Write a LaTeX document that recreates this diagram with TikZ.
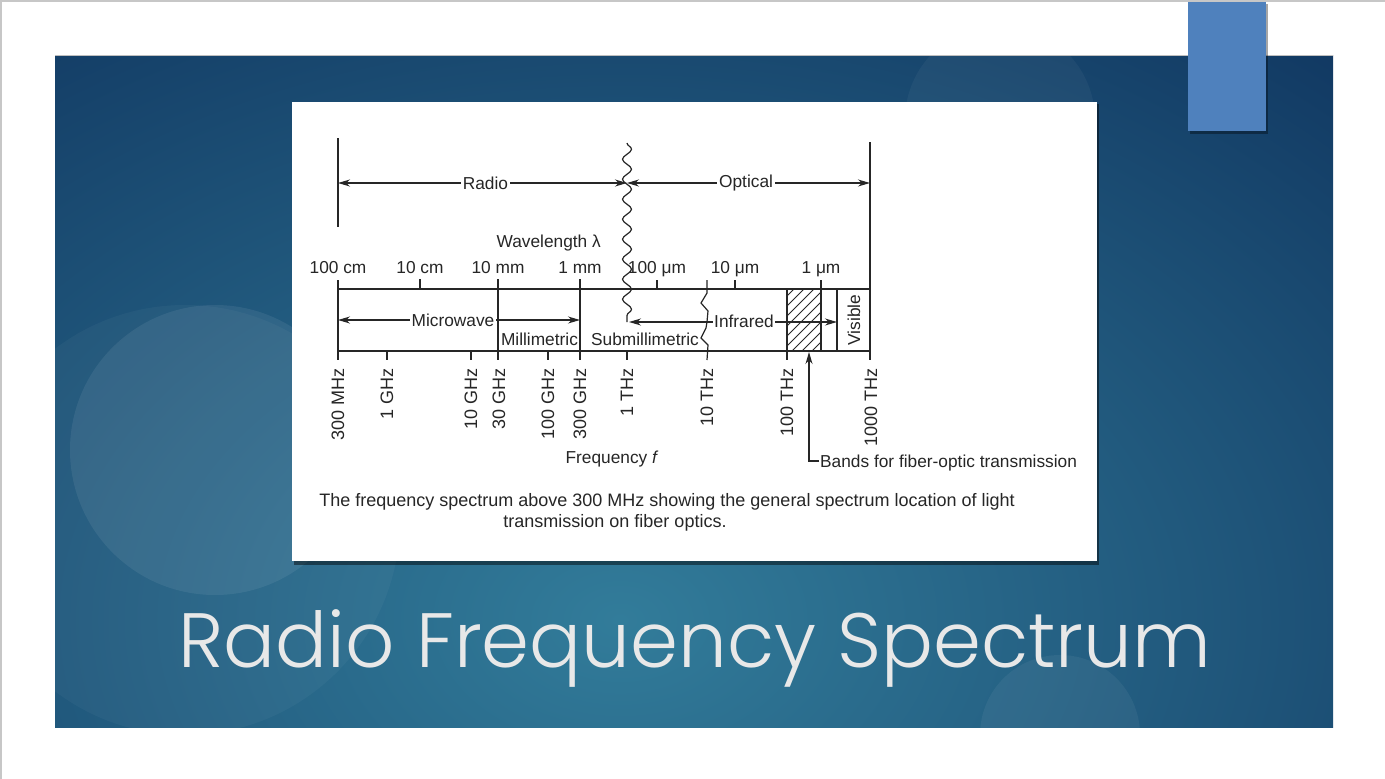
\documentclass[tikz,border=0pt]{standalone}
\usepackage{fontspec}
\setmainfont{Liberation Sans}
\newfontfamily\titlefont{Poppins}[UprightFont=* Light]
\usetikzlibrary{arrows.meta,decorations.pathmorphing}
\definecolor{bgdark}{RGB}{11,44,88}
\definecolor{bgteal}{RGB}{50,124,154}
\definecolor{accent}{RGB}{79,129,189}
\definecolor{ink}{RGB}{38,38,38}
\definecolor{titlegray}{RGB}{232,232,232}
\tikzset{
  ln/.style={draw=ink, line width=1.2pt},
  arr/.style={ln, -{Stealth[length=12pt,width=7pt]}},
  darr/.style={ln, {Stealth[length=12pt,width=7pt]}-{Stealth[length=12pt,width=7pt]}},
  lbl/.style={font=\fontsize{17.3}{19}\selectfont, text=ink, inner sep=1pt},
  flbl/.style={lbl, font=\fontsize{18}{19}\selectfont, rotate=90, anchor=east},
  wlbl/.style={lbl, anchor=base},
  caplbl/.style={lbl, anchor=base, font=\fontsize{18}{20}\selectfont},
  gap/.style={lbl, fill=white, inner sep=2pt},
}
\begin{document}
\begin{tikzpicture}[x=1pt,y=-1pt]
\useasboundingbox (0,0) rectangle (1385,779);
\fill[white] (0,0) rectangle (1385,779);
\draw[black!22, line width=1.5pt] (0,1) -- (1385,1);
\draw[black!22, line width=1.5pt] (1,0) -- (1,779);

% slide background
\fill[bgdark] (55,55) rectangle (1333,727);
\begin{scope}
  \clip (55,55) rectangle (1333,727);
  \shade[inner color=bgteal, outer color=bgdark] (620,620) ellipse (1300 and 900);
  \fill[white, opacity=0.035] (185,520) circle (215);
  \fill[white, opacity=0.07] (215,450) circle (145);
  \fill[white, opacity=0.04] (1000,120) circle (95);
  \fill[white, opacity=0.05] (1060,735) circle (80);
\end{scope}
\draw[black!25, line width=0.8pt] (55,55.5) -- (1333,55.5);

% accent block
\fill[black, opacity=0.35] (1190,4) rectangle (1268,134);
\fill[accent] (1188,2) rectangle (1266,131);

% white panel
\fill[black, opacity=0.45] (294,104) rectangle (1099,565);
\fill[white] (292,102) rectangle (1097,561);

% ---------- diagram ----------
\coordinate (radL) at (338,183);
\coordinate (radR) at (627,183);
\coordinate (optL) at (627,183);
\coordinate (optR) at (870,183);
\draw[ln] (338,138) -- (338,227);
\draw[ln] (870,142) -- (870,360);
\draw[ln, decorate, decoration={snake, segment length=20pt, amplitude=4.5pt}] (627,143) -- (627,322);

\draw[darr] (radL) -- (radR) node[gap, pos=0.51] (radio) {Radio};
\draw[darr] (optL) -- (optR) node[gap, pos=0.49] (optical) {Optical};

\node[wlbl, anchor=base east] (wave) at (602,247) {Wavelength λ};

% wavelength labels
\node[wlbl] (w1) at (338,273) {100 cm};
\node[wlbl] (w2) at (420,273) {10 cm};
\node[wlbl] (w3) at (498,273) {10 mm};
\node[wlbl] (w4) at (580,273) {1 mm};
\node[wlbl] (w5) at (657,273) {100 μm};
\node[wlbl] (w6) at (735,273) {10 μm};
\node[wlbl] (w7) at (821,273) {1 μm};

% hatched band
\begin{scope}
  \clip (787,289) rectangle (821,351);
  \foreach \x in {722,732,...,830} \draw[ink, line width=0.8pt] (\x,351) -- (\x+62,289);
\end{scope}

% scale lines
\draw[ln] (338,289) -- (870,289);
\draw[ln] (338,351) -- (870,351);
\draw[ln] (338,280) -- (338,360);
\draw[ln] (420,279) -- (420,289);
\draw[ln] (498,279) -- (498,360);
\draw[ln] (580,279) -- (580,360);
\draw[ln] (657,280) -- (657,289);
\draw[ln] (735,280) -- (735,289);
\draw[ln] (821,280) -- (821,351);
\draw[ln] (787,289) -- (787,360);
\draw[ln] (837,289) -- (837,351);
\draw[ln] (707,280) -- (707,293) -- (701,303) -- (708,311) -- (707,322);
\draw[ln] (707,322) -- (706,328) -- (701,338) -- (708,345) -- (707,360);
\foreach \x in {387,471,548,627} \draw[ln] (\x,351) -- (\x,360);

% band arrows
\coordinate (mwL) at (338,320);
\coordinate (mwR) at (580,320);
\draw[darr] (mwL) -- (mwR);
\node[gap] (micro) at (453,320) {Microwave};
\node[wlbl] (milli) at (539.5,345) {Millimetric};
\node[wlbl] (submilli) at (645,345) {Submillimetric};
\coordinate (irL) at (629,322);
\coordinate (irR) at (837,322);
\draw[darr] (irL) -- (irR);
\node[gap, inner sep=1.5pt] (ir) at (744,321) {Infrared};
\node[lbl, rotate=90] (vis) at (854,320) {Visible};

% frequency labels
\node[flbl] (f1) at (338,367) {300 MHz};
\node[flbl] (f2) at (387,367) {1 GHz};
\node[flbl] (f3) at (471,367) {10 GHz};
\node[flbl] (f4) at (499,367) {30 GHz};
\node[flbl] (f5) at (548,367) {100 GHz};
\node[flbl] (f6) at (580,367) {300 GHz};
\node[flbl] (f7) at (627,367) {1 THz};
\node[flbl] (f8) at (707,367) {10 THz};
\node[flbl] (f9) at (787,367) {100 THz};
\node[flbl] (f10) at (871,367) {1000 THz};
\node[wlbl] (freq) at (612,463) {Frequency \textit{f}};

% fiber-optic band pointer
\node[wlbl, anchor=base west] (bands) at (819,467) {Bands for fiber-optic transmission};
\coordinate (bandtip) at (809,352);
\coordinate (bandcorner) at (809,461);
\draw[arr] (bands.west |- bandcorner) -- (bandcorner) -- (bandtip);

% caption
\node[caplbl] (cap1) at (667,506) {The frequency spectrum above 300 MHz showing the general spectrum location of light};
\node[caplbl] (cap2) at (615,527) {transmission on fiber optics.};

% title
\node[anchor=base, text=titlegray, font=\titlefont\fontsize{77}{80}\selectfont, inner sep=0pt] (title) at (695,667) {Radio Frequency Spectrum};
\end{tikzpicture}
\end{document}
